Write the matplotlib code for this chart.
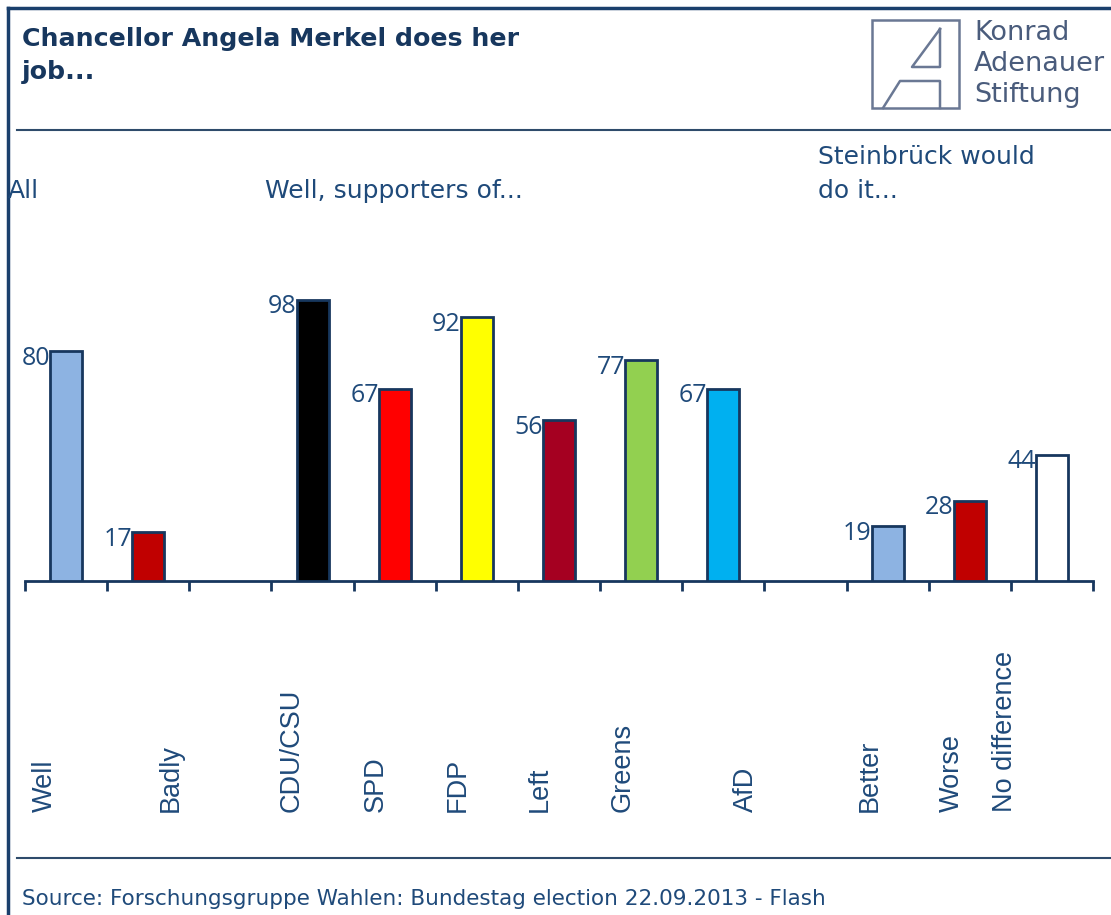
# Merkel job approval chart (Konrad Adenauer Stiftung style)
import matplotlib
matplotlib.use("Agg")
import matplotlib.pyplot as plt
from matplotlib.lines import Line2D
from matplotlib.patches import Rectangle

# ---- data ----
group_all = ["Well", "Badly"]
values_all = [80, 17]
colors_all = ["#8DB3E2", "#C00000"]

group_parties = ["CDU/CSU", "SPD", "FDP", "Left", "Greens", "AfD"]
values_parties = [98, 67, 92, 56, 77, 67]
colors_parties = ["#000000", "#FF0000", "#FFFF00", "#A50021", "#92D050", "#00B0F0"]

group_steinbrueck = ["Better", "Worse", "No difference"]
values_steinbrueck = [19, 28, 44]
colors_steinbrueck = ["#8DB3E2", "#C00000", "#FFFFFF"]

TITLE = "Chancellor Angela Merkel does her\njob..."
SOURCE = "Source: Forschungsgruppe Wahlen: Bundestag election 22.09.2013 - Flash"

# the original deck places its rotated labels a little unevenly (in slot units)
LABEL_SHIFT = [-0.26, 0.27, -0.26, -0.23, -0.23, -0.23, -0.22, 0.28, -0.22, -0.22, -0.57]

W, H = 1111, 915
NAVY = "#17375E"
TEXT = "#1F4A7A"


def fx(x):
    return x / W


def fy(y):
    return 1 - y / H


fig = plt.figure(figsize=(W / 100, H / 100), dpi=100)
fig.patch.set_facecolor("white")

# frame: top and left border
fig.add_artist(Line2D([fx(8), fx(W)], [fy(8), fy(8)], color="#1A3F6C", lw=2.5))
fig.add_artist(Line2D([fx(8), fx(8)], [fy(8), fy(H)], color="#1A3F6C", lw=2.5))

# header / footer rules
fig.add_artist(Line2D([fx(17), fx(W)], [fy(130), fy(130)], color="#2E4B6B", lw=1.5))
fig.add_artist(Line2D([fx(17), fx(W)], [fy(858), fy(858)], color="#2E4B6B", lw=1.5))

fig.text(fx(22), fy(27), TITLE, ha="left", va="top", fontsize=18.2, fontweight="bold",
         color=NAVY, family="DejaVu Sans", linespacing=1.45)

# ---- logo ----
LOGO = "#6A7894"
fig.add_artist(Rectangle((fx(872), fy(108)), fx(959) - fx(872), fy(20) - fy(108),
                         fill=False, ec=LOGO, lw=1.8))
fig.add_artist(Line2D([fx(940), fx(912), fx(940), fx(940)],
                      [fy(29), fy(67), fy(67), fy(29)], color=LOGO, lw=1.8))
fig.add_artist(Line2D([fx(883), fx(900), fx(940), fx(940)],
                      [fy(108), fy(81), fy(81), fy(108)], color=LOGO, lw=1.8))
fig.text(fx(974), fy(20), "Konrad\nAdenauer\nStiftung", ha="left", va="top",
         fontsize=19.5, color="#4A5C7C", family="DejaVu Sans", linespacing=1.25)

# section headings
fig.text(fx(8), fy(198), "All", ha="left", va="baseline", fontsize=18, color=TEXT,
         family="DejaVu Sans")
fig.text(fx(265), fy(198), "Well, supporters of...", ha="left", va="baseline",
         fontsize=18, color=TEXT, family="DejaVu Sans")
fig.text(fx(818), fy(198), "Steinbrück would\ndo it...", ha="left", va="baseline",
         fontsize=18, color=TEXT, family="DejaVu Sans", linespacing=1.5)

fig.text(fx(22), fy(905), SOURCE, ha="left", va="baseline", fontsize=15.5,
         color=TEXT, family="DejaVu Sans")

# ---- bars ----
groups = [
    (group_all, values_all, colors_all),
    (group_parties, values_parties, colors_parties),
    (group_steinbrueck, values_steinbrueck, colors_steinbrueck),
]
labels, values, colors, xs = [], [], [], []
pos = 0
for names, vals, cols in groups:
    for n, v, c in zip(names, vals, cols):
        labels.append(n)
        values.append(v)
        colors.append(c)
        xs.append(pos)
        pos += 1
    pos += 1  # empty slot between groups
n_slots = pos - 1

base_y = 581
px_per_unit = 2.87
ax = fig.add_axes([fx(25), fy(base_y), fx(1093) - fx(25), 100 * px_per_unit / H])
ax.set_xlim(-0.5, n_slots - 0.5)
ax.set_ylim(0, 100)

bar_w = 0.39
ax.bar(xs, values, width=bar_w, color=colors, edgecolor=NAVY, linewidth=2, zorder=3)

for x, v in zip(xs, values):
    ax.text(x - bar_w / 2, v - 2.5, str(v), ha="right", va="center", fontsize=18,
            color=TEXT, family="Open Sans")

for x, lab, sh in zip(xs, labels, LABEL_SHIFT):
    ax.text(x + sh, -80.5, lab, rotation=90, ha="center", va="bottom",
            fontsize=19.5, color=TEXT, family="Liberation Sans")

for s in ["top", "right", "left"]:
    ax.spines[s].set_visible(False)
ax.spines["bottom"].set_color(NAVY)
ax.spines["bottom"].set_linewidth(2)
ax.set_yticks([])
ax.set_xticks([i - 0.5 for i in range(n_slots + 1)])
ax.set_xticklabels([])
ax.tick_params(axis="x", length=7, width=2, color=NAVY, direction="out")

fig.savefig("out.png", dpi=100)
